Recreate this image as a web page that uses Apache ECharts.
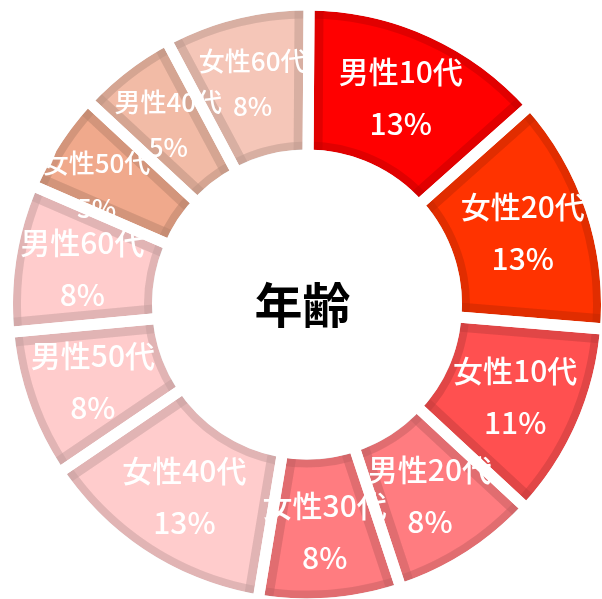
<!DOCTYPE html>
<html>
<head>
<meta charset="utf-8">
<script src="https://cdn.jsdelivr.net/npm/echarts@6/dist/echarts.min.js"></script>
<style>
    html, body { margin: 0; padding: 0; background: #fff; }
    #chart { width: 602px; height: 599px; }
</style>
</head>
<body>
<div id="chart"></div>
<script>
// 年齢構成（時計回り、12時から）
const categories = ['男性10代', '女性20代', '女性10代', '男性20代', '女性30代', '女性40代', '男性50代', '男性60代', '女性50代', '男性40代', '女性60代'];
const shares = [13.3, 12.9, 10.6, 8.0, 7.7, 12.9, 8.0, 8.0, 5.4, 5.3, 7.9];
const fillColors = ['#FF0000', '#FF3300', '#FF5050', '#FF7C80', '#FF7C80', '#FFCCCC', '#FFCCCC', '#FFCCCC', '#F0A98C', '#F2BBA6', '#F5C6B8'];

const centerTitle = '年齢';

// these slices use a smaller label in the original
const smallLabels = ['女性50代', '男性40代', '女性60代'];
// label nudges (px) where the original placed it off-centre
const labelNudge = { '女性50代': [-20, 6] };

const CX = 307, CY = 304.5;
const R_IN = 155, R_OUT = 294;
const GAP = 11;        // white gap between slices
const BAND = 9;        // darker rim along the slice sides
const ARC_BAND = 8;    // darker rim along the arcs
const SHADE = 'rgba(0,0,0,0.059)';
const CLEAR = 'rgba(0,0,0,0)';
const FONT = '"Noto Sans CJK JP", "Noto Sans", sans-serif';

const rimWidth = 2 * (GAP / 2 + BAND);
const rimShift = rimWidth / 2 - ARC_BAND;

const chart = echarts.init(document.getElementById('chart'), null, { renderer: 'canvas' });

const sliceData = (style, extra) => categories.map((name, i) => Object.assign({
    name: name,
    value: shares[i],
    itemStyle: style(i)
}, extra ? extra(name, i) : {}));

const labelFor = (name) => {
    const lbl = {};
    if (smallLabels.includes(name)) {
        lbl.fontSize = 26;
        lbl.lineHeight = 45;
    }
    if (labelNudge[name]) lbl.offset = labelNudge[name];
    return { label: lbl };
};

const basePie = {
    type: 'pie',
    center: [CX, CY],
    startAngle: 89.6,
    clockwise: true,
    silent: true,
    avoidLabelOverlap: false,
    label: { show: false },
    labelLine: { show: false },
    emphasis: { disabled: true }
};

chart.setOption({
    animation: false,
    backgroundColor: '#fff',
    series: [
        // slice fills
        Object.assign({}, basePie, {
            z: 1,
            radius: [R_IN, R_OUT],
            data: sliceData(i => ({ color: fillColors[i], borderWidth: 0 }))
        }),
        // rim shading (sides + arcs)
        Object.assign({}, basePie, {
            z: 2,
            radius: [R_IN - rimShift, R_OUT + rimShift],
            data: sliceData(() => ({ color: CLEAR, borderColor: SHADE, borderWidth: rimWidth }))
        }),
        Object.assign({}, basePie, {
            z: 3,
            radius: [R_IN - rimShift, R_OUT + rimShift],
            data: [{ name: 'ring', value: 1, itemStyle: { color: CLEAR, borderColor: SHADE, borderWidth: rimWidth } }]
        }),
        // clean up outside the ring
        Object.assign({}, basePie, {
            z: 4,
            radius: [R_IN - 11, R_OUT + 11],
            data: [{ name: 'mask', value: 1, itemStyle: { color: CLEAR, borderColor: '#fff', borderWidth: 22 } }]
        }),
        // white gaps between slices
        Object.assign({}, basePie, {
            z: 5,
            radius: [R_IN - 40, R_OUT + 40],
            data: sliceData(() => ({ color: CLEAR, borderColor: '#fff', borderWidth: GAP }))
        }),
        // labels
        Object.assign({}, basePie, {
            z: 6,
            radius: [R_IN, R_OUT],
            data: sliceData(() => ({ color: CLEAR, borderWidth: 0 }), labelFor),
            labelLayout: { hideOverlap: false },
            label: {
                show: true,
                position: 'inside',
                color: '#fff',
                fontFamily: FONT,
                fontWeight: 500,
                fontSize: 30,
                lineHeight: 52,
                textBorderWidth: 0,
                formatter: p => p.name + '\n' + Math.round(p.value) + '%'
            }
        })
    ],
    graphic: [{
        type: 'text',
        x: 302.5,
        y: 305,
        z: 10,
        style: {
            text: centerTitle,
            fill: '#000',
            font: 'bold 48px ' + FONT,
            align: 'center',
            verticalAlign: 'middle'
        }
    }]
});
</script>
</body>
</html>
